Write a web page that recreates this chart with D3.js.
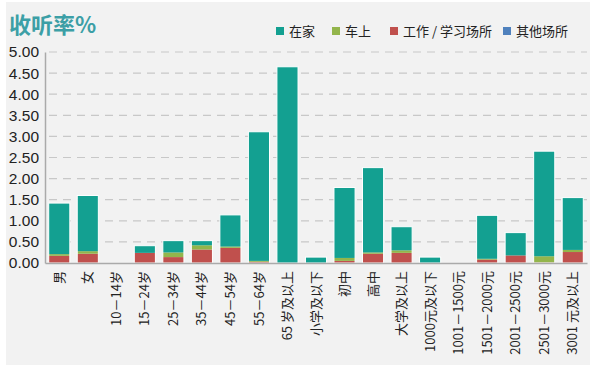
<!DOCTYPE html>
<meta charset="utf-8">
<style>
body { margin: 0; background: #fff; }
svg { display: block; }
.axis text { font-family: "Liberation Sans", Arial, sans-serif; fill: #222; }
.xlab text { font-family: "Noto Sans CJK SC", sans-serif; fill: #222; }
</style>
<body>
<svg width="600" height="365"></svg>
<script src="https://d3js.org/d3.v7.min.js"></script>
<script>
var categories = ["男", "女", "10－14岁", "15－24岁", "25－34岁", "35－44岁", "45－54岁", "55－64岁", "65 岁及以上",
  "小学及以下", "初中", "高中", "大学及以上", "1000元及以下", "1001－1500元", "1501－2000元", "2001－2500元", "2501－3000元", "3001 元及以上"];
var atHome  = [1.21, 1.32, 0, 0.17, 0.28, 0.11, 0.75, 3.06, 4.65, 0.14, 1.67, 2.01, 0.56, 0.14, 0, 1.03, 0.54, 2.49, 1.24];
var inCar   = [0.04, 0.06, 0, 0.00, 0.11, 0.10, 0.03, 0.02, 0.00, 0.00, 0.07, 0.03, 0.06, 0.00, 0, 0.02, 0.00, 0.15, 0.05];
var atWork  = [0.17, 0.22, 0, 0.24, 0.14, 0.32, 0.36, 0.03, 0.00, 0.00, 0.05, 0.22, 0.24, 0.00, 0, 0.08, 0.18, 0.01, 0.26];
var other   = [0, 0, 0, 0, 0, 0, 0, 0, 0, 0, 0, 0, 0, 0, 0, 0, 0, 0, 0];
var seriesNames = ["在家", "车上", "工作 / 学习场所", "其他场所"];
var colors = ["#13a091", "#93b54b", "#c0504d", "#4f81bd"];
var yTicks = [0, 0.5, 1, 1.5, 2, 2.5, 3, 3.5, 4, 4.5, 5];

var svg = d3.select("svg");
svg.append("rect").attr("x", 6).attr("y", 2).attr("width", 584).attr("height", 363).attr("fill", "#f2f2f2");

var margin = {left: 45, right: 587, top: 52, bottom: 263};
var x = d3.scaleBand().domain(categories).range([margin.left, margin.right]).paddingInner(0.26).paddingOuter(0.13);
var y = d3.scaleLinear().domain([0, 5]).range([margin.bottom, margin.top]);

// grid
svg.append("g").selectAll("line").data(yTicks.slice(1)).enter().append("line")
  .attr("x1", margin.left).attr("x2", margin.right)
  .attr("y1", d => y(d)).attr("y2", d => y(d))
  .attr("stroke", "#c8c8c8").attr("stroke-width", 1.2).attr("stroke-dasharray", "8,6")
  .attr("stroke-dashoffset", -4);

// y axis
var yAxis = svg.append("g").attr("class", "axis").attr("transform", "translate(" + margin.left + ",0)")
  .call(d3.axisLeft(y).tickValues(yTicks).tickFormat(d3.format(".2f")).tickSize(0).tickPadding(6));
yAxis.select(".domain").attr("stroke", "#aaa").attr("stroke-width", 1.5);
yAxis.selectAll("text").attr("font-size", 15.5);

// stacked bars
var rows = categories.map(function(c, i) {
  return {cat: c, s0: atHome[i], s1: inCar[i], s2: atWork[i], s3: other[i]};
});
// stack order bottom-up: work, car, home, other
var stack = d3.stack().keys(["s2", "s1", "s0", "s3"])(rows);
var colorOf = {s0: colors[0], s1: colors[1], s2: colors[2], s3: colors[3]};

svg.append("g").selectAll("g").data(stack).enter().append("g")
  .attr("fill", d => colorOf[d.key])
  .selectAll("rect").data(d => d.filter(p => p[1] - p[0] > 0)).enter().append("rect")
  .attr("x", d => x(d.data.cat))
  .attr("width", x.bandwidth())
  .attr("y", d => y(d[1]))
  .attr("height", d => y(d[0]) - y(d[1]));

// white outline around each total bar
svg.append("g").selectAll("rect").data(rows.filter(r => r.s0 + r.s1 + r.s2 + r.s3 > 0)).enter().append("rect")
  .attr("x", d => x(d.cat))
  .attr("width", x.bandwidth())
  .attr("y", d => y(d.s0 + d.s1 + d.s2 + d.s3))
  .attr("height", d => y(0) - y(d.s0 + d.s1 + d.s2 + d.s3))
  .attr("fill", "none").attr("stroke", "#fff").attr("stroke-width", 1);

// x axis
var xAxis = svg.append("g").attr("class", "xlab").attr("transform", "translate(0," + margin.bottom + ")")
  .call(d3.axisBottom(x).tickSize(0).tickPadding(0));
xAxis.select(".domain").attr("stroke", "#aaa").attr("stroke-width", 1.5);
xAxis.selectAll("text")
  .attr("font-size", 13)
  .attr("text-anchor", "end")
  .attr("transform", "rotate(-90)")
  .attr("x", -8).attr("y", 0).attr("dy", "0.35em");

// title
svg.append("text").attr("x", 9).attr("y", 33)
  .attr("font-family", "Noto Sans CJK SC, sans-serif").attr("font-weight", "bold")
  .attr("font-size", 22).attr("fill", "#3c9fa6").text("收听率%");

// legend
var legX = [276, 332, 390, 503];
var leg = svg.append("g").selectAll("g").data(seriesNames).enter().append("g")
  .attr("transform", (d, i) => "translate(" + legX[i] + ",27)");
leg.append("rect").attr("width", 8).attr("height", 8).attr("fill", (d, i) => colors[i]);
leg.append("text").attr("x", 13).attr("y", 4).attr("dy", "0.36em")
  .attr("font-family", "Noto Sans CJK SC, sans-serif").attr("font-size", 13).attr("fill", "#222")
  .text(d => d);
</script>
</body>
</html>
